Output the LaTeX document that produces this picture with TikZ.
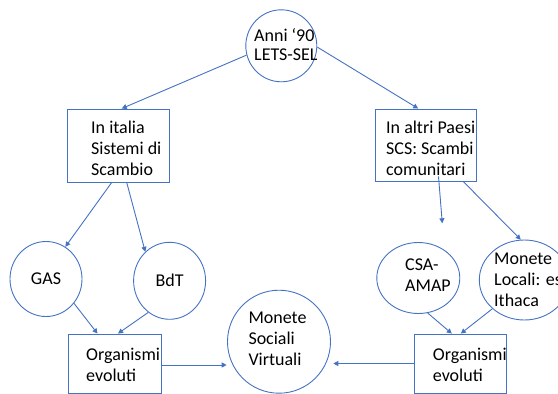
\documentclass[tikz,border=0pt]{standalone}
\usepackage{fontspec}
\setmainfont{Carlito}
\usetikzlibrary{arrows.meta,shapes.geometric}
\definecolor{ln}{HTML}{4472C4}
\begin{document}
\begin{tikzpicture}[x=1pt,y=-1pt,
  shp/.style={draw=ln, line width=0.9pt, inner sep=0pt, font=\fontsize{18}{21}\selectfont},
  boxn/.style={shp, rectangle},
  ell/.style={shp, ellipse},
  txt/.style={font=\fontsize{18}{21}\selectfont, align=left, inner sep=0pt, anchor=west},
  arr/.style={draw=ln, line width=0.9pt, -{Triangle[length=5pt,width=5pt]}}]
\useasboundingbox (0,0) rectangle (558,394);
\clip (0,0) rectangle (558,394);
% shapes
\node[ell, minimum width=71pt, minimum height=72pt] (top) at (281.3,45.8) {};
\node[boxn, minimum width=102pt, minimum height=73pt] (lbox) at (118,145.5) {};
\node[boxn, minimum width=101pt, minimum height=72pt] (rbox) at (426.2,145) {};
\node[ell, minimum width=72pt, minimum height=75pt] (gas) at (46,279) {GAS};
\node[ell, minimum width=72pt, minimum height=77pt] (bdt) at (169.6,280.8) {BdT};
\node[ell, minimum width=83pt, minimum height=71pt] (csa) at (418.3,278) {};
\node[ell, minimum width=90pt, minimum height=80pt] (ml) at (524.3,280) {};
\node[ell, minimum width=103pt, minimum height=103pt] (msv) at (279,341.7) {};
\node[boxn, minimum width=93pt, minimum height=59pt] (lbox2) at (115,363.5) {};
\node[boxn, minimum width=92pt, minimum height=59pt] (rbox2) at (460.8,363.5) {};
% texts
\node[txt, font=\fontsize{18}{18.5}\selectfont] (toptext) at (254,44.6) {Anni ‘90\\LETS-SEL};
\node[txt] (ltext) at (91,148.5) {In italia\\Sistemi di\\Scambio};
\node[txt] (rtext) at (386,148.5) {In altri Paesi\\SCS: Scambi\\comunitari};
\node[txt] (csatext) at (405,275.5) {CSA-\\AMAP};
\node[txt] (mltext) at (494,279.7) {Monete\\Locali: es\\Ithaca};
\node[txt] (msvtext) at (248.3,338.3) {Monete\\Sociali\\Virtuali};
\node[txt] (l2text) at (86,365) {Organismi\\evoluti};
\node[txt] (r2text) at (432.7,365) {Organismi\\evoluti};
% free ends
\coordinate (csain) at (442.3,223.3);
\coordinate (msvl) at (226.7,365);
\coordinate (msvr) at (333.3,363.5);
% connectors
\draw[arr] (top.195) -- ([xshift=3.7pt]lbox.north);
\draw[arr] (top.-2) -- ([xshift=-8pt]rbox.north);
\draw[arr] ([xshift=-6.3pt]lbox.south) -- (gas.59);
\draw[arr] ([xshift=8.7pt]lbox.south) -- (bdt.130);
\draw[arr] ([xshift=12.3pt,yshift=5pt]rbox.south) -- (csain);
\draw[arr] ([xshift=37pt]rbox.south) -- (ml.95);
\draw[arr] (gas.-41) -- ([xshift=-17.5pt]lbox2.north);
\draw[arr] (bdt.236) -- ([xshift=3pt]lbox2.north);
\draw[arr] (csa.-75) -- ([xshift=-9pt]rbox2.north);
\draw[arr] (ml.222) -- (rbox2.north);
\draw[arr] ([yshift=-1.5pt]lbox2.east) -- (msvl);
\draw[arr] (rbox2.west) -- (msvr);
\end{tikzpicture}
\end{document}
